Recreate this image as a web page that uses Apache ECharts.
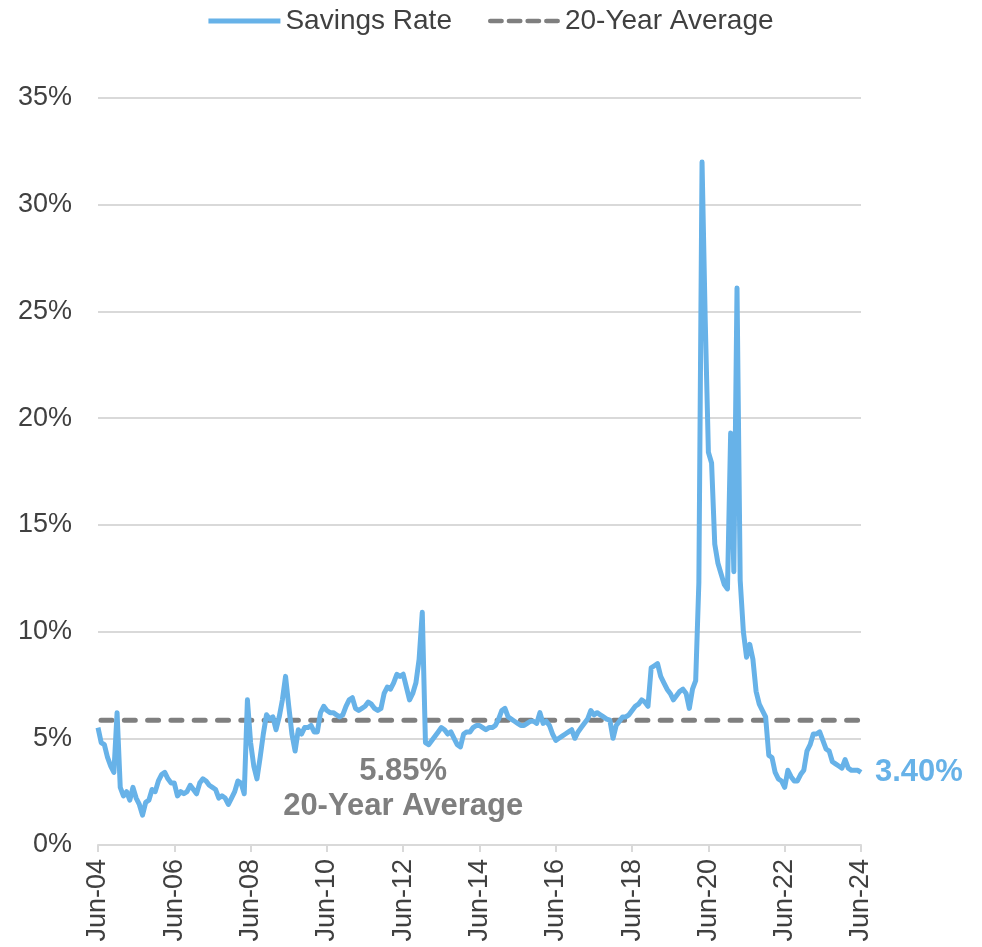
<!DOCTYPE html>
<html>
<head>
<meta charset="utf-8">
<script src="https://cdn.jsdelivr.net/npm/echarts@6/dist/echarts.min.js"></script>
<style>
html,body{margin:0;padding:0;background:#fff;}
#chart{width:982px;height:947px;}
</style>
</head>
<body>
<div id="chart"></div>
<script>
// Monthly personal savings rate (%), Jun-2004 .. Jun-2024
var savingsRate = [
  5.5, 4.8, 4.7, 4.1, 3.7, 3.4, 6.2, 2.7, 2.3, 2.5, 2.1, 2.7,   // Jun04-May05
  2.2, 1.9, 1.4, 2.0, 2.1, 2.6, 2.5, 3.0, 3.3, 3.4, 3.1, 2.9,   // Jun05-May06
  2.9, 2.3, 2.5, 2.4, 2.5, 2.8, 2.6, 2.4, 2.9, 3.1, 3.0, 2.8,   // Jun06-May07
  2.7, 2.6, 2.2, 2.3, 2.2, 1.9, 2.2, 2.5, 3.0, 2.9, 2.4, 6.8,   // Jun07-May08
  4.8, 3.7, 3.1, 4.1, 5.2, 6.1, 5.9, 6.0, 5.4, 6.0, 6.8, 7.9,   // Jun08-May09
  6.5, 5.2, 4.4, 5.4, 5.2, 5.5, 5.5, 5.6, 5.3, 5.3, 6.2, 6.5,   // Jun09-May10
  6.3, 6.2, 6.2, 6.1, 6.0, 6.1, 6.5, 6.8, 6.9, 6.4, 6.3, 6.4,   // Jun10-May11
  6.5, 6.7, 6.6, 6.4, 6.3, 6.4, 7.1, 7.4, 7.3, 7.6, 8.0, 7.9,   // Jun11-May12
  8.0, 7.4, 6.8, 7.1, 7.6, 8.7, 10.9, 4.8, 4.7, 4.9, 5.1, 5.3,  // Jun12-May13
  5.5, 5.4, 5.2, 5.3, 5.0, 4.7, 4.6, 5.2, 5.3, 5.3, 5.5, 5.6,   // Jun13-May14
  5.6, 5.5, 5.4, 5.5, 5.5, 5.6, 5.9, 6.3, 6.4, 6.0, 5.9, 5.8,   // Jun14-May15
  5.7, 5.6, 5.6, 5.7, 5.8, 5.8, 5.7, 6.2, 5.7, 5.8, 5.6, 5.2,   // Jun15-May16
  4.9, 5.0, 5.1, 5.2, 5.3, 5.4, 5.0, 5.3, 5.5, 5.7, 5.9, 6.3,   // Jun16-May17
  6.1, 6.2, 6.1, 6.0, 5.9, 5.85, 5.0, 5.6, 5.8, 6.0, 6.0, 6.1,  // Jun17-May18
  6.3, 6.5, 6.6, 6.8, 6.7, 6.5, 8.3, 8.4, 8.5, 7.9, 7.6, 7.3,   // Jun18-May19
  7.1, 6.8, 7.0, 7.2, 7.3, 7.1, 6.4, 7.3, 7.7, 12.3, 32.0, 24.6, // Jun19-May20
  18.4, 17.9, 14.1, 13.2, 12.7, 12.2, 12.0, 19.3, 12.8, 26.1, 12.4, 10.0, // Jun20-May21
  8.8, 9.4, 8.7, 7.2, 6.6, 6.3, 6.0, 4.2, 4.1, 3.4, 3.1, 3.0,   // Jun21-May22
  2.7, 3.5, 3.2, 3.0, 3.0, 3.3, 3.5, 4.4, 4.7, 5.2, 5.2, 5.3,   // Jun22-May23
  4.9, 4.5, 4.4, 3.9, 3.8, 3.7, 3.6, 4.0, 3.6, 3.5, 3.5, 3.5,   // Jun23-May24
  3.4                                                           // Jun24
];
var averageValue = 5.85;
var averageLabelIndex = 96;
var seriesNames = ['Savings Rate', '20-Year Average'];
var yTicks = [0, 5, 10, 15, 20, 25, 30, 35];
var monthNames = ['Jan','Feb','Mar','Apr','May','Jun','Jul','Aug','Sep','Oct','Nov','Dec'];
var startYear = 2004, startMonth = 5; // June 2004

var categories = [];
for (var i = 0; i < savingsRate.length; i++) {
  var m = startMonth + i;
  var y = startYear + Math.floor(m / 12);
  categories.push(monthNames[m % 12] + '-' + String(y % 100).padStart(2, '0'));
}
var averageSeries = categories.map(function(){ return averageValue; });

var blue = '#67B2E8';
var gray = '#7F7F7F';
var font = 'Liberation Sans, Arial, sans-serif';

var chart = echarts.init(document.getElementById('chart'));
chart.setOption({
  animation: false,
  backgroundColor: '#fff',
  textStyle: { fontFamily: font },
  legend: {
    top: 2,
    left: 'center',
    itemWidth: 72,
    itemHeight: 5,
    itemGap: 36,
    textStyle: { fontSize: 28, color: '#404040', fontFamily: font },
    data: [
      { name: seriesNames[0], icon: 'path://M0,0H72V5H0Z', itemStyle: { color: blue } },
      { name: seriesNames[1], icon: 'path://M2.5,0H14.5A2.5,2.5 0 0 1 14.5,5H2.5A2.5,2.5 0 0 1 2.5,0Z M22.5,0H34.5A2.5,2.5 0 0 1 34.5,5H22.5A2.5,2.5 0 0 1 22.5,0Z M42.5,0H54.5A2.5,2.5 0 0 1 54.5,5H42.5A2.5,2.5 0 0 1 42.5,0Z M62.5,0H74.5A2.5,2.5 0 0 1 74.5,5H62.5A2.5,2.5 0 0 1 62.5,0Z', itemStyle: { color: gray } }
    ]
  },
  grid: { left: 98, right: 121, top: 98, bottom: 102, containLabel: false },
  xAxis: {
    type: 'category',
    data: categories,
    boundaryGap: false,
    axisLine: { lineStyle: { color: '#D9D9D9', width: 2 } },
    axisTick: { show: true, interval: 23, length: 7, lineStyle: { color: '#D9D9D9', width: 2 } },
    axisLabel: { interval: 23, rotate: 90, fontSize: 27, color: '#404040', margin: 14, fontFamily: font }
  },
  yAxis: {
    type: 'value',
    min: yTicks[0],
    max: yTicks[yTicks.length - 1],
    interval: 5,
    axisLine: { show: false },
    axisTick: { show: false },
    splitLine: { lineStyle: { color: '#D9D9D9', width: 2 } },
    axisLabel: { formatter: '{value}%', fontSize: 27, color: '#404040', margin: 26, fontFamily: font }
  },
  series: [
    {
      name: seriesNames[1],
      type: 'line',
      data: averageSeries,
      symbol: 'none',
      z: 3,
      lineStyle: { color: gray, width: 5, type: [11, 12.3], dashOffset: -3, cap: 'round' },
      itemStyle: { color: gray },
      markPoint: {
        symbol: 'circle',
        symbolSize: 1,
        itemStyle: { color: 'rgba(0,0,0,0)' },
        data: [{
          coord: [categories[averageLabelIndex], averageValue],
          label: {
            show: true,
            position: 'bottom',
            distance: 33,
            formatter: averageValue.toFixed(2) + '%\n20-Year Average',
            fontSize: 31,
            fontWeight: 'bold',
            lineHeight: 35,
            color: gray,
            align: 'center',
            fontFamily: font
          }
        }]
      }
    },
    {
      name: seriesNames[0],
      type: 'line',
      data: savingsRate,
      symbol: 'none',
      z: 4,
      lineStyle: { color: blue, width: 5, join: 'round' },
      itemStyle: { color: blue },
      endLabel: {
        show: true,
        formatter: function(p){ return p.value.toFixed(2) + '%'; },
        fontSize: 31,
        fontWeight: 'bold',
        color: blue,
        distance: 14,
        fontFamily: font
      }
    }
  ]
});
</script>
</body>
</html>
